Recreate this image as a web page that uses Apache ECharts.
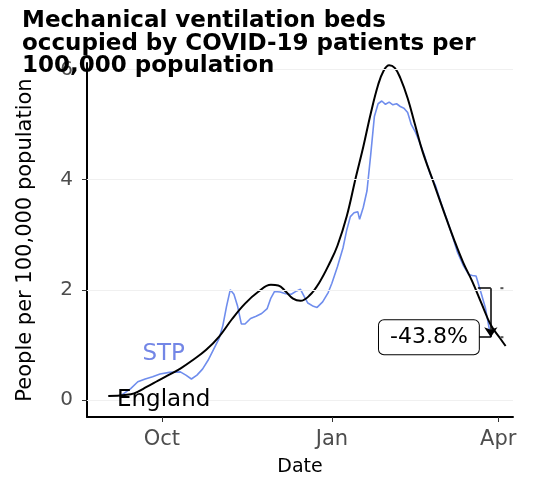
<!DOCTYPE html>
<html><head><meta charset="utf-8">
<script src="https://cdn.jsdelivr.net/npm/echarts@6/dist/echarts.min.js"></script>
<style>html,body{margin:0;padding:0;background:#fff}#c{width:533px;height:482px}</style>
</head><body><div id="c"></div>
<script>
const englandDates = ['2020-09-02','2020-09-11','2020-09-16','2020-09-23','2020-09-29','2020-10-04','2020-10-11','2020-10-18','2020-10-25','2020-11-01','2020-11-08','2020-11-15','2020-11-22','2020-11-29','2020-12-03','2020-12-07','2020-12-11','2020-12-15','2020-12-20','2020-12-25','2020-12-31','2021-01-04','2021-01-09','2021-01-14','2021-01-18','2021-01-22','2021-01-26','2021-01-29','2021-02-01','2021-02-04','2021-02-07','2021-02-11','2021-02-15','2021-02-19','2021-02-25','2021-03-03','2021-03-08','2021-03-13','2021-03-18','2021-03-23','2021-03-28','2021-04-02','2021-04-05'];
const englandValues = [0.07,0.09,0.12,0.24,0.35,0.44,0.57,0.73,0.91,1.15,1.47,1.75,1.96,2.09,2.08,1.97,1.84,1.80,1.90,2.12,2.50,2.80,3.33,4.05,4.60,5.20,5.72,5.98,6.08,6.03,5.85,5.48,5.00,4.52,3.95,3.38,2.92,2.50,2.15,1.75,1.36,1.12,0.98];

const stpDates = ['2020-09-08','2020-09-14','2020-09-18','2020-09-22','2020-09-26','2020-09-30','2020-10-05','2020-10-11','2020-10-14','2020-10-17','2020-10-20','2020-10-23','2020-10-26','2020-10-29','2020-11-01','2020-11-03','2020-11-05','2020-11-07','2020-11-09','2020-11-11','2020-11-13','2020-11-15','2020-11-18','2020-11-21','2020-11-24','2020-11-27','2020-11-29','2020-12-01','2020-12-04','2020-12-07','2020-12-10','2020-12-13','2020-12-15','2020-12-17','2020-12-19','2020-12-22','2020-12-24','2020-12-27','2020-12-30','2021-01-01','2021-01-04','2021-01-07','2021-01-09','2021-01-11','2021-01-13','2021-01-15','2021-01-16','2021-01-18','2021-01-20','2021-01-22','2021-01-24','2021-01-26','2021-01-28','2021-01-30','2021-02-01','2021-02-03','2021-02-05','2021-02-07','2021-02-09','2021-02-11','2021-02-13','2021-02-15','2021-02-17','2021-02-20','2021-02-23','2021-02-26','2021-03-01','2021-03-04','2021-03-07','2021-03-10','2021-03-13','2021-03-16','2021-03-18','2021-03-20','2021-03-22','2021-03-25','2021-03-28'];
const stpValues = [0.06,0.20,0.33,0.38,0.42,0.47,0.50,0.51,0.45,0.38,0.45,0.56,0.72,0.92,1.12,1.35,1.70,2.00,1.92,1.70,1.38,1.38,1.48,1.52,1.57,1.66,1.85,1.97,1.96,1.93,1.92,1.98,2.01,1.88,1.76,1.70,1.68,1.78,1.95,2.12,2.42,2.76,3.08,3.33,3.40,3.42,3.28,3.50,3.80,4.45,5.15,5.38,5.43,5.37,5.41,5.36,5.38,5.33,5.30,5.22,5.00,4.88,4.72,4.45,4.12,3.90,3.58,3.30,3.00,2.68,2.45,2.28,2.26,2.25,2.03,1.68,1.14];

const yTicks = [0, 2, 4, 6];
const xTicks = ['2020-10-01', '2021-01-01', '2021-04-01'];
const monthNames = ['Jan','Feb','Mar','Apr','May','Jun','Jul','Aug','Sep','Oct','Nov','Dec'];

const changeFrom = {date: '2021-03-21', value: 2.03};
const changeTo = {date: '2021-03-28', value: 1.14};
const changeLabel = '-43.8%';

const FONT = 'DejaVu Sans';
const toTs = d => new Date(d + 'T00:00:00Z').getTime();

const chart = echarts.init(document.getElementById('c'), null, {renderer: 'canvas'});
chart.setOption({
  animation: false,
  textStyle: {fontFamily: FONT},
  title: {
    text: 'Mechanical ventilation beds\noccupied by COVID-19 patients per\n100,000 population',
    left: 17, top: 5,
    textStyle: {fontFamily: FONT, fontSize: 23, fontWeight: 'bold', color: '#000', lineHeight: 22.5}
  },
  grid: {left: 87, right: 20, top: 63, bottom: 64, containLabel: false},
  xAxis: {
    type: 'value',
    min: toTs('2020-08-21') + 12 * 3600e3,
    max: toTs('2021-04-09'),
    name: 'Date', nameLocation: 'middle', nameGap: 41,
    nameTextStyle: {fontFamily: FONT, fontSize: 19, color: '#000'},
    axisLine: {show: true, onZero: false, lineStyle: {color: '#000', width: 2}},
    axisTick: {show: true, customValues: xTicks.map(toTs), length: 5, lineStyle: {color: '#333', width: 1}},
    axisLabel: {
      customValues: xTicks.map(toTs), margin: 12, fontFamily: FONT, fontSize: 21, color: '#4d4d4d',
      formatter: v => monthNames[new Date(v).getUTCMonth()]
    },
    splitLine: {show: false}
  },
  yAxis: {
    type: 'value', min: -0.31, max: 6.12,
    name: 'People per 100,000 population', nameLocation: 'middle', nameGap: 51,
    nameTextStyle: {fontFamily: FONT, fontSize: 21, color: '#000'},
    axisLine: {show: true, onZero: false, lineStyle: {color: '#000', width: 2}},
    axisTick: {show: true, customValues: yTicks, length: 5, lineStyle: {color: '#333', width: 1}},
    axisLabel: {customValues: yTicks, margin: 14, fontFamily: FONT, fontSize: 20, color: '#4d4d4d'},
    splitLine: {show: false}
  },
  series: [
    {
      name: 'STP', type: 'line', showSymbol: false, symbol: 'none',
      data: stpDates.map((d, i) => [toTs(d), stpValues[i]]),
      lineStyle: {color: '#6f8ded', width: 1.6},
      z: 3,
      markLine: {
        silent: true, symbol: 'none', animation: false,
        label: {show: false},
        lineStyle: {color: '#f0f0f0', width: 1, type: 'solid'},
        data: yTicks.map(v => ({yAxis: v}))
      },
      markPoint: {
        silent: true, symbol: 'circle', symbolSize: 0,
        data: [{
          coord: [toTs('2020-10-02'), 0.84],
          label: {show: true, position: 'inside', formatter: 'STP', fontFamily: FONT, fontSize: 23, color: '#7386e6'}
        }]
      }
    },
    {
      name: 'England', type: 'line', showSymbol: false, symbol: 'none', smooth: 0.4,
      data: englandDates.map((d, i) => [toTs(d), englandValues[i]]),
      lineStyle: {color: '#000', width: 2},
      z: 4,
      markPoint: {
        silent: true, symbol: 'circle', symbolSize: 0,
        data: [{
          coord: [toTs('2020-10-02'), 0.0],
          label: {show: true, position: 'inside', formatter: 'England', fontFamily: FONT, fontSize: 23, color: '#000'}
        }]
      }
    },
    {
      name: 'annot', type: 'line', data: [], z: 5,
      markLine: {
        silent: true, animation: false, symbol: 'none',
        label: {show: false},
        lineStyle: {color: '#000', width: 1.5, type: 'solid'},
        data: [
          [{coord: [toTs(changeFrom.date), changeFrom.value]}, {coord: [toTs(changeTo.date), changeFrom.value]}],
          [{coord: [toTs(changeTo.date), changeFrom.value], symbol: 'none'}, {coord: [toTs(changeTo.date), changeTo.value], symbol: 'arrow', symbolSize: 10}],
          [{coord: [toTs('2021-03-22') - 12 * 3600e3, changeTo.value]}, {coord: [toTs(changeTo.date), changeTo.value]}]
        ]
      },
      markPoint: {
        silent: true, symbol: 'circle', symbolSize: 0,
        data: [{
          coord: [toTs('2021-02-22') + 12 * 3600e3, changeTo.value],
          label: {
            show: true, position: 'inside', formatter: changeLabel, fontFamily: FONT, fontSize: 22, color: '#000',
            backgroundColor: '#fff', borderColor: '#000', borderWidth: 1, borderRadius: 5, padding: [6, 11, 6, 11]
          }
        }, {
          coord: [toTs('2021-04-03'), changeFrom.value], symbol: 'rect', symbolSize: [3, 2], itemStyle: {color: '#555'}
        }, {
          coord: [toTs('2021-04-03'), changeTo.value], symbol: 'rect', symbolSize: [3, 2], itemStyle: {color: '#555'}
        }]
      }
    }
  ]
});
</script>
</body></html>
